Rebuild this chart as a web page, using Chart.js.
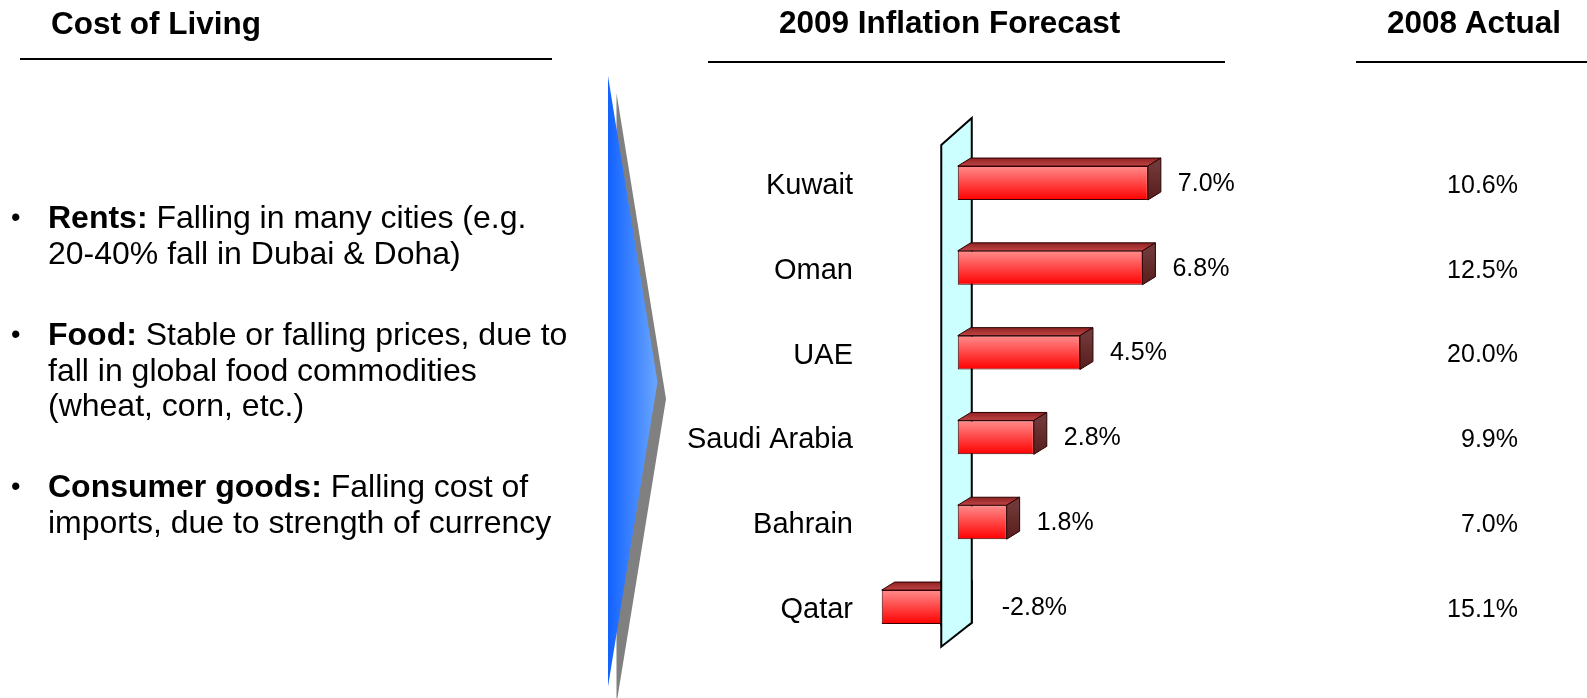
<!DOCTYPE html>
<html><head><meta charset="utf-8">
<script src="https://cdn.jsdelivr.net/npm/chart.js@4.4.0/dist/chart.umd.min.js"></script>
<style>
html,body{margin:0;padding:0;background:#fff;}
#wrap{position:relative;width:1587px;height:698px;overflow:hidden;font-family:"Liberation Sans",Arial,Helvetica,sans-serif;color:#000;}
canvas{position:absolute;left:0;top:0;}
.t{position:absolute;white-space:nowrap;}
.hd{font-weight:bold;font-size:31.5px;line-height:36px;}
.rule{position:absolute;height:0;border-top:2px solid #000;}
.p{font-size:32px;line-height:35.5px;left:48px;}
.bul{position:absolute;left:11px;font-size:27px;line-height:35.5px;}
</style></head>
<body><div id="wrap">
<canvas id="c" width="1587" height="698"></canvas>
<div class="t hd" style="left:51px;top:5px">Cost of Living</div>
<div class="t hd" style="left:779px;top:4px">2009 Inflation Forecast</div>
<div class="t hd" style="left:1387px;top:4px">2008 Actual</div>
<div class="rule" style="left:20px;width:532px;top:58px"></div>
<div class="rule" style="left:708px;width:517px;top:61px"></div>
<div class="rule" style="left:1356px;width:231px;top:61px"></div>
<div class="bul" style="top:200px">•</div>
<div class="t p" style="top:200px"><b>Rents:</b> Falling in many cities (e.g.<br>20-40% fall in Dubai &amp; Doha)</div>
<div class="bul" style="top:317px">•</div>
<div class="t p" style="top:317px"><b>Food:</b> Stable or falling prices, due to<br>fall in global food commodities<br>(wheat, corn, etc.)</div>
<div class="bul" style="top:469px">•</div>
<div class="t p" style="top:469px"><b>Consumer goods:</b> Falling cost of<br>imports, due to strength of currency</div>
</div>
<script>
const categories = ['Kuwait', 'Oman', 'UAE', 'Saudi Arabia', 'Bahrain', 'Qatar'];
const forecast2009 = [7.0, 6.8, 4.5, 2.8, 1.8, -2.8];
const actual2008 = [10.6, 12.5, 20.0, 9.9, 7.0, 15.1];
const xRange = { min: -3.6, max: 8 };

const FONT = '"Liberation Sans", Arial, Helvetica, sans-serif';
const DEPTH = { dx: 13, dy: -8 };
const WALL = { frontDx: -16.5, backDx: 14, frontTop: 4.5, frontBottom: -2.7, backTop: -22.6, backBottom: -26.7 };
const ARROW = { left: 608, top: 76, tipX: 657.5, tipY: 382, bottom: 686.5, sdx: 8.5, sdy: 17 };
const fmt = v => v.toFixed(1) + '%';

function wallPath(ctx, chart) {
  const a = chart.chartArea, x0 = chart.scales.x.getPixelForValue(0);
  ctx.beginPath();
  ctx.moveTo(x0 + WALL.frontDx, a.top + WALL.frontTop);
  ctx.lineTo(x0 + WALL.backDx, a.top + WALL.backTop);
  ctx.lineTo(x0 + WALL.backDx, a.bottom + WALL.backBottom);
  ctx.lineTo(x0 + WALL.frontDx, a.bottom + WALL.frontBottom);
  ctx.closePath();
}
function drawWall(ctx, chart) {
  wallPath(ctx, chart);
  ctx.fillStyle = '#ccffff'; ctx.fill();
  ctx.lineWidth = 2; ctx.strokeStyle = '#000'; ctx.lineJoin = 'miter'; ctx.stroke();
}
function barBox(el) {
  const p = el.getProps(['x', 'y', 'base', 'height'], true);
  return { l: Math.min(p.x, p.base), r: Math.max(p.x, p.base), t: p.y - p.height / 2, b: p.y + p.height / 2, y: p.y, x: p.x, base: p.base };
}
function drawFaces(ctx, bx) {
  const { dx, dy } = DEPTH;
  ctx.lineWidth = 1; ctx.strokeStyle = '#2a0000'; ctx.lineJoin = 'round';
  ctx.beginPath();
  ctx.moveTo(bx.l, bx.t); ctx.lineTo(bx.l + dx, bx.t + dy); ctx.lineTo(bx.r + dx, bx.t + dy); ctx.lineTo(bx.r, bx.t);
  ctx.closePath();
  let g = ctx.createLinearGradient(0, bx.t + dy, 0, bx.t);
  g.addColorStop(0, '#8e2222'); g.addColorStop(1, '#c24444');
  ctx.fillStyle = g; ctx.fill(); ctx.stroke();
  ctx.beginPath();
  ctx.moveTo(bx.r, bx.t); ctx.lineTo(bx.r + dx, bx.t + dy); ctx.lineTo(bx.r + dx, bx.b + dy); ctx.lineTo(bx.r, bx.b);
  ctx.closePath();
  g = ctx.createLinearGradient(0, bx.t, 0, bx.b);
  g.addColorStop(0, '#703838'); g.addColorStop(1, '#581c1c');
  ctx.fillStyle = g; ctx.fill(); ctx.stroke();
}

const deco = {
  id: 'deco',
  beforeDraw(chart) {
    const ctx = chart.ctx, A = ARROW;
    ctx.save();
    ctx.fillStyle = '#808080';
    ctx.beginPath();
    ctx.moveTo(A.left + A.sdx, A.top + A.sdy); ctx.lineTo(A.tipX + A.sdx, A.tipY + A.sdy); ctx.lineTo(A.left + A.sdx, A.bottom + A.sdy);
    ctx.closePath(); ctx.fill();
    const g = ctx.createLinearGradient(A.left, 0, A.tipX, 0);
    g.addColorStop(0, '#1262ff'); g.addColorStop(1, '#6aa6ff');
    ctx.fillStyle = g;
    ctx.beginPath();
    ctx.moveTo(A.left, A.top); ctx.lineTo(A.tipX, A.tipY); ctx.lineTo(A.left, A.bottom);
    ctx.closePath(); ctx.fill();
    ctx.restore();
  },
  beforeDatasetsDraw(chart) {
    const ctx = chart.ctx;
    ctx.save();
    drawWall(ctx, chart);
    const meta = chart.getDatasetMeta(0);
    meta.data.forEach(el => drawFaces(ctx, barBox(el)));
    ctx.restore();
  },
  afterDatasetsDraw(chart) {
    const ctx = chart.ctx;
    const meta = chart.getDatasetMeta(0);
    const data = chart.data.datasets[0].data;
    ctx.save();
    meta.data.forEach((el, i) => {
      if (data[i] < 0) {
        const bx = barBox(el);
        ctx.save();
        ctx.beginPath();
        ctx.rect(0, bx.t + DEPTH.dy - 2, chart.width, bx.b - bx.t - DEPTH.dy + 4);
        ctx.clip();
        drawWall(ctx, chart);
        ctx.restore();
      }
    });
    ctx.fillStyle = '#000';
    ctx.font = '25px ' + FONT;
    ctx.textBaseline = 'middle';
    ctx.textAlign = 'left';
    meta.data.forEach((el, i) => {
      const bx = barBox(el);
      const tx = data[i] < 0 ? bx.base + 44 : bx.r + 30;
      ctx.fillText(fmt(data[i]), tx, bx.y + 1);
    });
    ctx.textAlign = 'right';
    const ys = chart.scales.y;
    actual2008.forEach((v, i) => {
      ctx.fillText(fmt(v), 1518, ys.getPixelForValue(i) + 3);
    });
    ctx.restore();
  }
};

new Chart(document.getElementById('c'), {
  type: 'bar',
  data: {
    labels: categories,
    datasets: [{
      data: forecast2009,
      categoryPercentage: 1,
      barPercentage: 0.4,
      borderWidth: 1,
      borderColor: '#3a0000',
      borderSkipped: false,
      backgroundColor: (c) => {
        const chart = c.chart, ys = chart.scales && chart.scales.y;
        if (!ys || c.type !== 'data' || !ys.height) return '#ff3030';
        const yc = ys.getPixelForValue(c.dataIndex);
        const h = ys.height / categories.length * 0.4;
        const g = chart.ctx.createLinearGradient(0, yc - h / 2, 0, yc + h / 2);
        g.addColorStop(0, '#ff8c8c'); g.addColorStop(1, '#ff0000');
        return g;
      }
    }]
  },
  options: {
    indexAxis: 'y',
    responsive: false,
    devicePixelRatio: 1,
    animation: false,
    events: [],
    layout: { padding: { left: 600, right: 412, top: 140.6, bottom: 48.6 } },
    plugins: { legend: { display: false }, tooltip: { enabled: false } },
    scales: {
      x: { type: 'linear', display: false, min: xRange.min, max: xRange.max, grid: { display: false } },
      y: {
        type: 'category',
        position: 'left',
        offset: true,
        grid: { display: false, drawTicks: false },
        border: { display: false },
        ticks: { color: '#000', font: { size: 29, family: FONT }, padding: 7, labelOffset: 3 },
        afterFit: (s) => { s.width = 260; }
      }
    }
  },
  plugins: [deco]
});
</script>
</body></html>
